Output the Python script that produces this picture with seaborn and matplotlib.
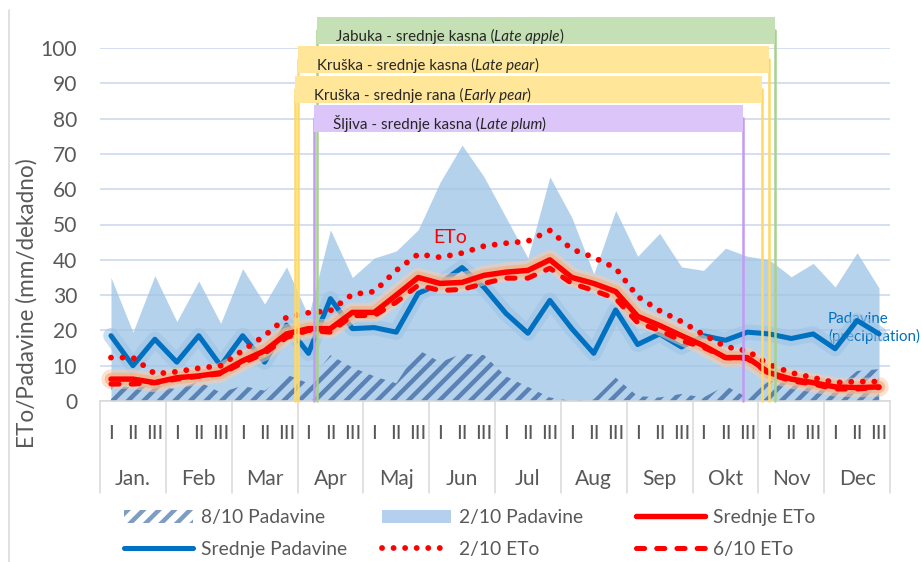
"""
ETo vs padavine po dekadama, s fenofazama vocaka
"""
import numpy as np
import pandas as pd
import matplotlib
matplotlib.use("Agg")
import matplotlib.pyplot as plt
import matplotlib.patheffects as pe
import matplotlib.transforms as mtransforms
from matplotlib.lines import Line2D
from matplotlib.patches import Rectangle, Patch
import seaborn as sns

sns.set_theme(style="white")
plt.rcParams["font.family"] = ["Lato", "DejaVu Sans"]
plt.rcParams["hatch.linewidth"] = 2.3

DPI = 140
TXT = "#595959"

# ---------------------------------------------------------
# DATA (one value per dekada, Jan I ... Dec III)
# ---------------------------------------------------------
months = ["Jan.", "Feb", "Mar", "Apr", "Maj", "Jun", "Jul", "Aug", "Sep", "Okt", "Nov", "Dec"]
decades = ["I", "II", "III"]

pad_20 = [35, 19.5, 35.5, 22.5, 34, 22, 37.5, 27.5, 38, 24, 48.5, 35,
          40.5, 42.5, 48.5, 62, 72.5, 63.5, 52, 40.5, 63.5, 52, 36, 54,
          41, 47.5, 38, 37, 43.3, 41, 40, 35.2, 39, 32.3, 42, 32]
pad_80 = [4.5, 3.8, 4.8, 3.3, 5.5, 2.4, 4.3, 2.9, 7.5, 5, 13, 9.5,
          7, 5, 14.5, 11, 13.4, 13, 7, 4, 1, 0, 0.5, 6.6,
          1.4, 1, 2, 1, 4.3, 1, 5.7, 5.5, 4.8, 3.3, 8.5, 9]
pad_mean = [18.5, 10, 17.5, 11, 18.5, 10, 18.5, 11, 21.5, 13.5, 29, 20.5,
            20.8, 19.5, 30.5, 33.3, 37.8, 32.2, 24.8, 19.2, 28.5, 20.5, 13.5, 25.8,
            16, 19, 15.3, 18.5, 17.2, 19.5, 19, 17.7, 19, 14.8, 22.8, 19]
eto_mean = [6.2, 6.2, 5.2, 6.6, 7.1, 8, 11.4, 14.2, 19, 20.5, 20.5, 25.1,
            25.1, 30, 35, 33.3, 33.6, 35.6, 36.5, 37, 40, 35, 33.3, 31,
            24, 21.4, 18.5, 15.7, 12.3, 12.3, 8, 6.2, 5.2, 4, 3.8, 4]
eto_20 = [12.3, 12.3, 7.7, 8.3, 9.3, 10, 14.3, 18.5, 23.7, 25, 25.6, 30.2,
          31, 37, 41.6, 40.7, 41.9, 43.9, 44.7, 45.3, 48.3, 43, 40.7, 37.6,
          29.6, 25.6, 22.5, 18.8, 15.4, 14.2, 10.3, 8, 6.6, 5.2, 5.5, 5.5]
eto_60 = [4.8, 4.8, 5.2, 6.2, 7, 7.7, 10.8, 13.5, 18, 20, 19.5, 24.2,
          24.2, 28, 32.8, 31.3, 31.6, 33.3, 34.8, 34.8, 37.6, 33.3, 31.3, 29,
          22.2, 20, 17.1, 15.2, 12.3, 12, 7.7, 5.7, 4.8, 3.4, 3.4, 3.8]

# fenofaze: pocetak/kraj u dekadama od 1. januara
phase_names = ["Jabuka - srednje kasna", "Kruška - srednje kasna",
               "Kruška - srednje rana", "Šljiva - srednje kasna"]
phase_latin = ["Late apple", "Late pear", "Early pear", "Late plum"]
phase_start = [9.88, 9.02, 8.89, 9.75]
phase_end = [30.77, 30.49, 30.17, 29.31]

df = pd.DataFrame({"dek": np.arange(36), "pad_20": pad_20, "pad_80": pad_80,
                   "pad_mean": pad_mean, "eto_mean": eto_mean,
                   "eto_20": eto_20, "eto_60": eto_60})

# ---------------------------------------------------------
# FIGURE
# ---------------------------------------------------------
fig = plt.figure(figsize=(922 / DPI, 562 / DPI), dpi=DPI)
ax = fig.add_axes([100 / 922, 161 / 562, 790 / 922, 353 / 562])

ax.set_xlim(-0.5, 35.5)
ax.set_ylim(0, 100)
ax.set_yticks(range(0, 101, 10))
ax.yaxis.grid(True, color="#d5dff0", linewidth=1.0, zorder=0)
for s in ["left", "right", "top"]:
    ax.spines[s].set_visible(False)
ax.spines["bottom"].set_color("#d9d9d9")
ax.spines["bottom"].set_linewidth(0.8)

# areas
ax.fill_between(df["dek"], 0, df["pad_20"], color="#9dc3e6", alpha=0.75, linewidth=0, zorder=1)
ax.fill_between(df["dek"], 0, df["pad_80"], facecolor="none", edgecolor="#5a82b4",
                hatch="///", linewidth=0, zorder=2)

# lines
glow_blue = [pe.Stroke(linewidth=8, foreground="#9dc3e6", alpha=0.55), pe.Normal()]
glow_red = [pe.Stroke(linewidth=10, foreground="#f8cbad", alpha=0.55),
            pe.Stroke(linewidth=6.5, foreground="#f4b183", alpha=0.7), pe.Normal()]

sns.lineplot(data=df, x="dek", y="pad_mean", ax=ax, color="#0070c0", linewidth=2.6,
             path_effects=glow_blue, zorder=4)
sns.lineplot(data=df, x="dek", y="eto_mean", ax=ax, color="#ff0000", linewidth=2.8,
             path_effects=glow_red, solid_joinstyle="round", zorder=5)
sns.lineplot(data=df, x="dek", y="eto_60", ax=ax, color="#ff0000", linewidth=2.6,
             linestyle=(0, (1.6, 2.4)), dash_capstyle="round", zorder=5)
sns.lineplot(data=df, x="dek", y="eto_20", ax=ax, color="#ff0000", linewidth=3.0,
             linestyle=(0, (0.01, 1.97)), dash_capstyle="round", zorder=5)

ax.set_xlabel("")
ax.set_ylabel("")

# fenofaze - kutije i vertikalne linije
box_top = [108.8, 100.6, 92.1, 83.9]
box_h = 7.65
box_fill = ["#c5e0b4", "#ffe699", "#ffe699", "#dcc6f9"]
box_line = ["#a9d18e", "#ffd966", "#ffd966", "#c39bf3"]
for i in range(4):
    x0 = phase_start[i] - 0.5
    x1 = phase_end[i] - 0.5
    mid = box_top[i] - box_h / 2
    for xx in (x0, x1):
        ax.plot([xx, xx], [0, mid], color=box_line[i], linewidth=1.3, zorder=6, clip_on=False)
    ax.add_patch(Rectangle((x0, box_top[i] - box_h), x1 - x0, box_h, facecolor=box_fill[i],
                           edgecolor="none", zorder=7, clip_on=False))
    t1 = ax.text(x0 + 0.87, box_top[i] - box_h + 0.8, phase_names[i] + " (", fontsize=7.8,
                 color="#262626", va="baseline", ha="left", zorder=8, clip_on=False)
    t2 = ax.annotate(phase_latin[i], xy=(1, 0), xycoords=t1, va="bottom", ha="left",
                     fontsize=7.8, style="italic", color="#262626", zorder=8)
    ax.annotate(")", xy=(1, 0), xycoords=t2, va="bottom", ha="left",
                fontsize=7.8, color="#262626", zorder=8)

# annotations
ax.text(15.45, 46.2, "ETo", color="#ff0000", fontsize=10, ha="center", va="center", zorder=9)
ax.text(32.68, 20.7, "Padavine\n(precipitation)", color="#0070c0", fontsize=7.8,
        ha="left", va="center", linespacing=1.3, zorder=3)

# y axis
ax.tick_params(axis="y", length=0, labelsize=10.8, labelcolor=TXT, pad=11.8)
fig.text(27 / 922, 1 - 303 / 562, "ETo/Padavine (mm/dekadno)", rotation=90,
         ha="center", va="center", fontsize=11.6, color=TXT)

# x axis: dekade + mjeseci
ax.set_xticks(range(36))
ax.set_xticklabels(decades * 12)
ax.tick_params(axis="x", length=0, labelsize=10.3, labelcolor=TXT, pad=12.5)
trans = mtransforms.blended_transform_factory(ax.transData, ax.transAxes)
for m, name in enumerate(months):
    ax.text(3 * m + 1, -0.221, name, transform=trans, ha="center", va="center",
            fontsize=10.8, color=TXT)
for m in range(13):
    ax.add_line(Line2D([3 * m - 0.5] * 2, [0, -0.261], transform=trans, color="#d9d9d9",
                       linewidth=0.8, clip_on=False))

# lijevi rub okvira
fig.add_artist(Line2D([9 / 922] * 2, [0, 1 - 10 / 562], transform=fig.transFigure,
                      color="#d9d9d9", linewidth=0.8))

# legend (3 kolone)
leg_cols = [
    [Patch(facecolor="white", edgecolor="#7f9cc2", hatch="///", linewidth=0),
     Line2D([], [], color="#0070c0", linewidth=2.6)],
    [Patch(facecolor="#b4d0ee", edgecolor="none"),
     Line2D([], [], color="#ff0000", linewidth=3.0, linestyle=(0, (0.01, 1.97)),
            dash_capstyle="round")],
    [Line2D([], [], color="#ff0000", linewidth=2.8),
     Line2D([], [], color="#ff0000", linewidth=2.6, linestyle=(0, (1.6, 2.4)),
            dash_capstyle="round")],
]
leg_labels = [["8/10 Padavine", "Srednje Padavine"],
              ["2/10 Padavine", "2/10 ETo"],
              ["Srednje ETo", "6/10 ETo"]]
leg_x = [124, 382, 636]
for handles, labels, lx in zip(leg_cols, leg_labels, leg_x):
    fig.legend(handles, labels, loc="upper left", bbox_to_anchor=(lx / 922, 1 - 509 / 562),
               frameon=False, fontsize=9.9, handlelength=3.6, handletextpad=0.38,
               labelspacing=0.78, borderpad=0, borderaxespad=0, labelcolor=TXT)

fig.savefig("out.png", dpi=DPI)
